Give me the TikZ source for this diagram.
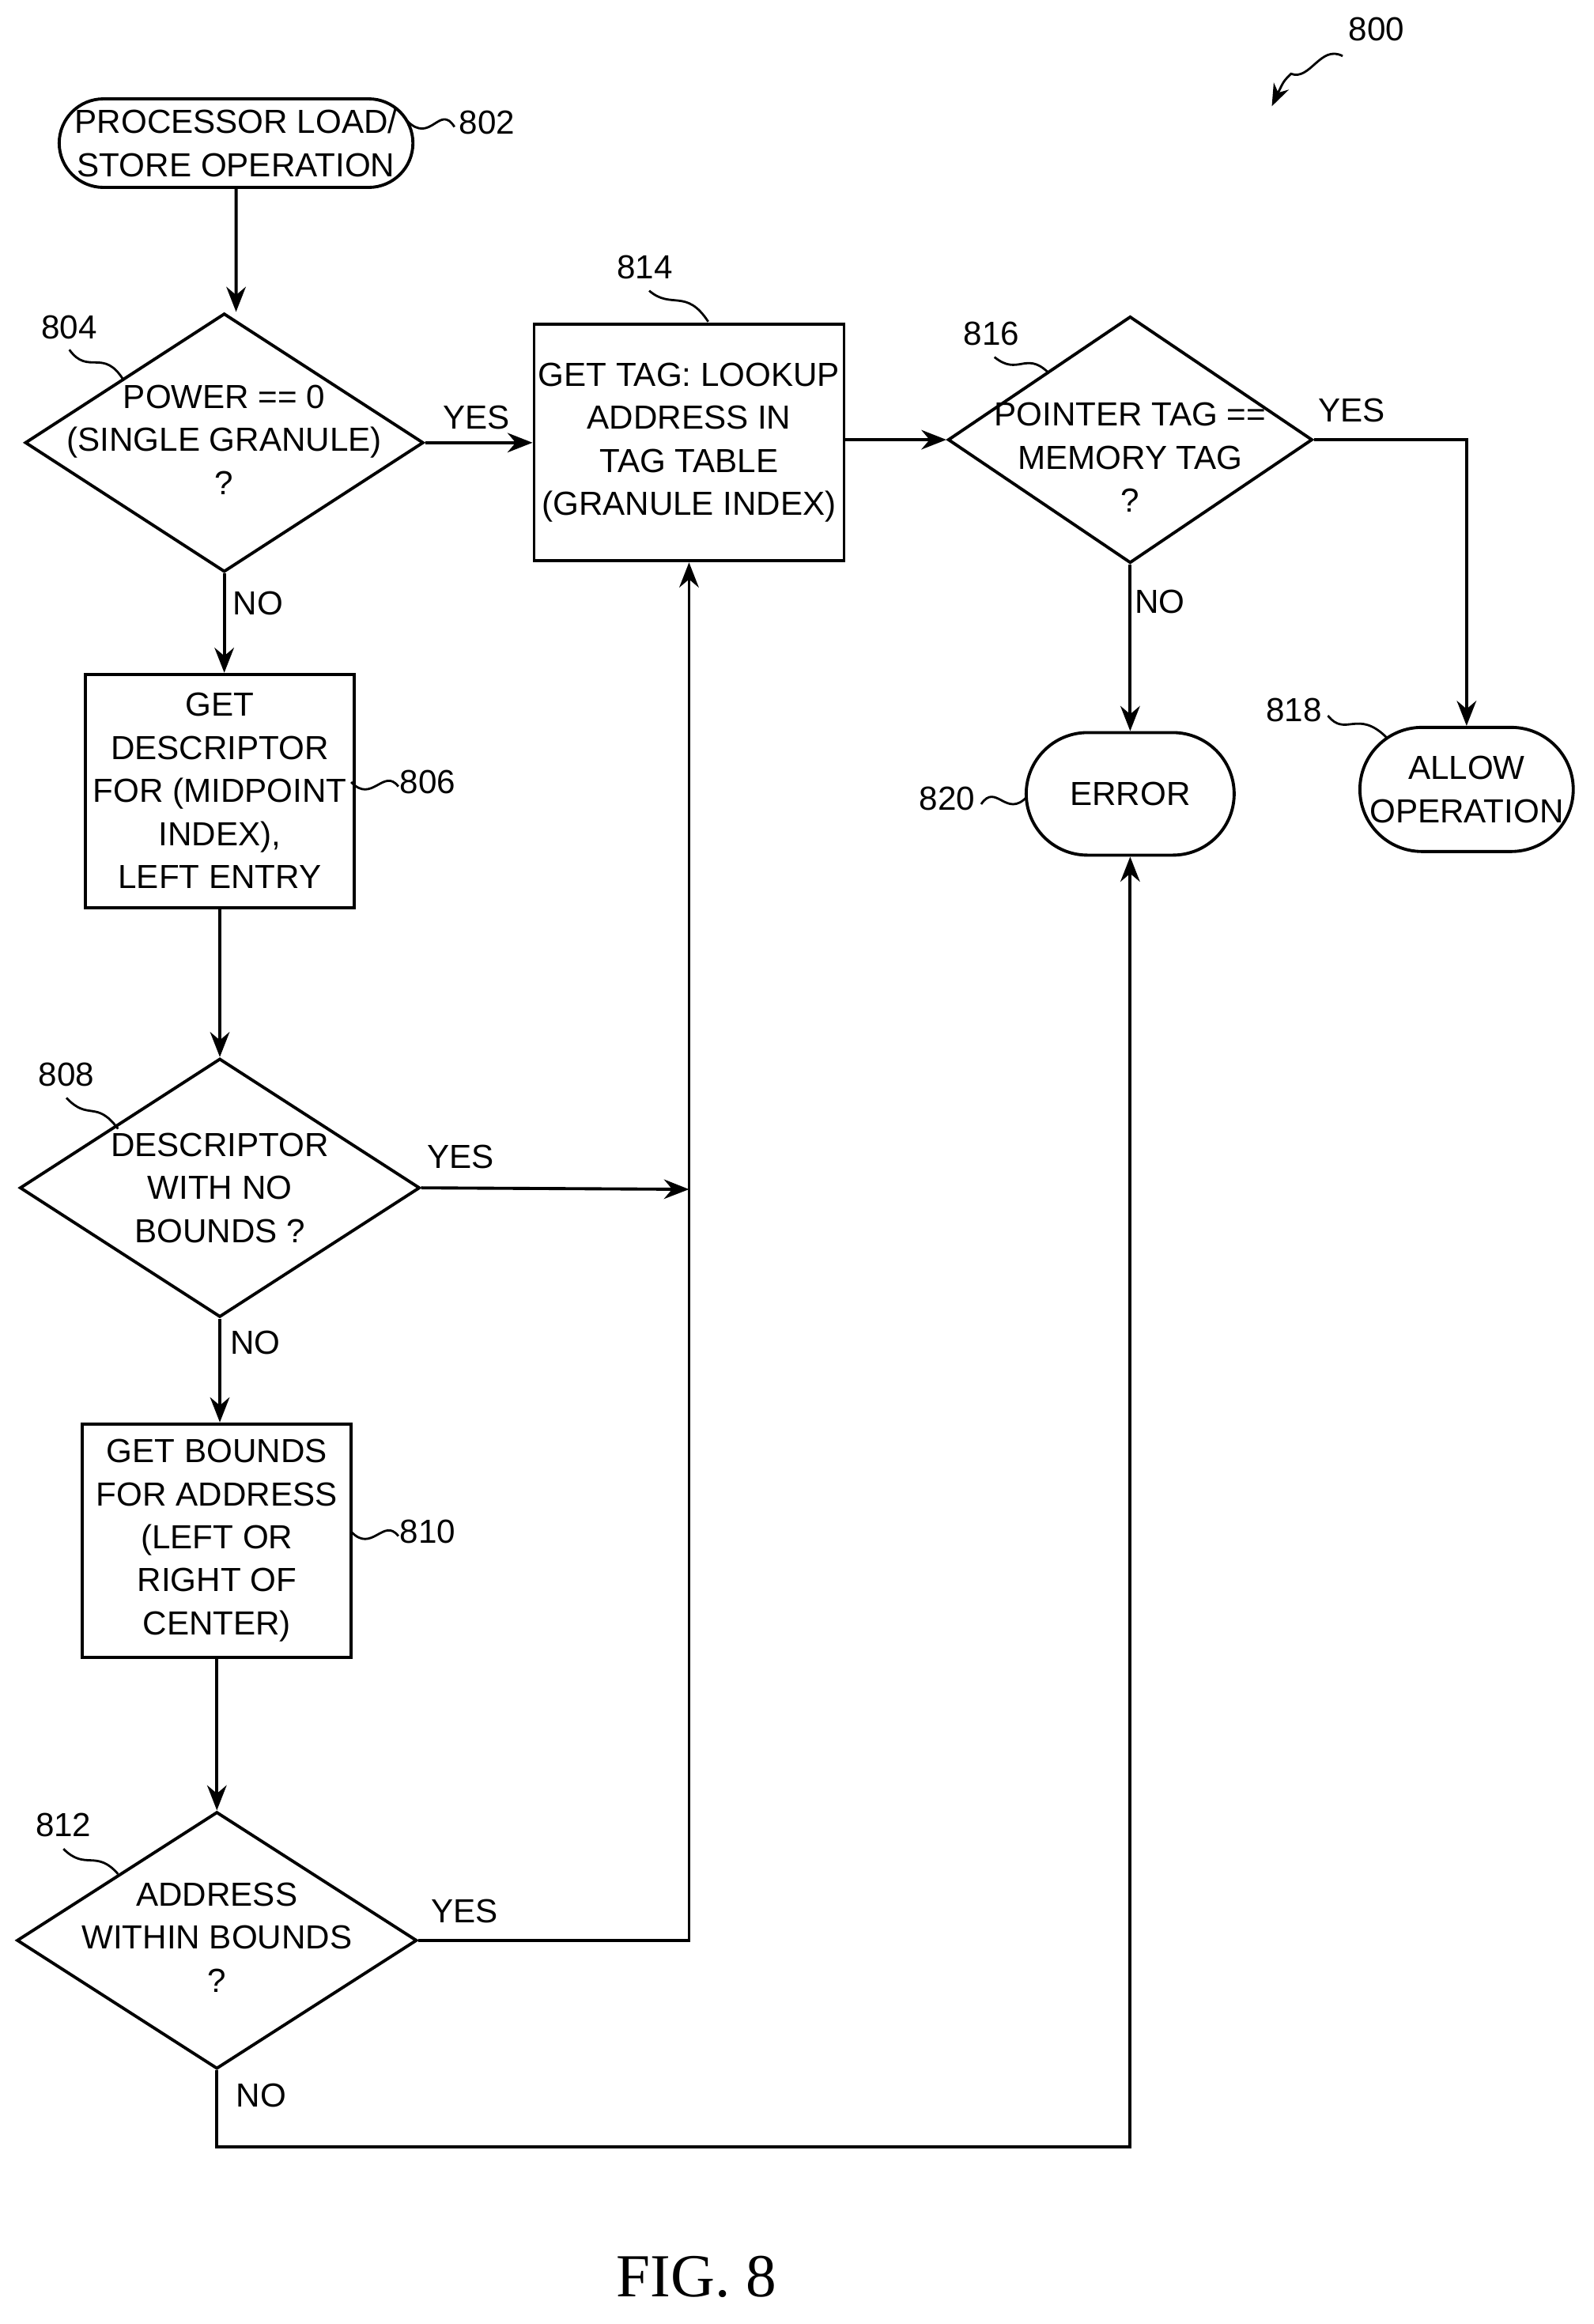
\documentclass[tikz,border=0pt]{standalone}
\usepackage{fontspec}
\setmainfont{Liberation Sans}
\newfontfamily\figfont{Liberation Serif}
\usetikzlibrary{shapes.geometric,shapes.misc,arrows.meta}
\begin{document}
\begin{tikzpicture}[x=0.018657cm,y=-0.018657cm,line width=1.1pt,
  every node/.style={font=\fontsize{12}{15.5}\selectfont,align=center,inner sep=0pt},
  box/.style={draw,rectangle,fill=white},
  term/.style={draw,rounded rectangle,fill=white,rounded rectangle arc length=180},
  dia/.style={draw,diamond,fill=white},
  arr/.style={-{Stealth[length=9pt,width=7pt]}},
  sq/.style={line width=0.8pt}]
\useasboundingbox (0,0) rectangle (1080,1575);
% nodes
\node[term,minimum width=4.29cm,minimum height=1.12cm] (n802) at (160,97) {PROCESSOR LOAD/\\STORE OPERATION};
\node[dia,minimum width=5.04cm,minimum height=3.27cm] (n804) at (152,300) {};
\node at (152,298) {POWER == 0\\(SINGLE GRANULE)\\?};
\node[box,minimum width=3.92cm,minimum height=2.99cm] (n814) at (467,300) {GET TAG: LOOKUP\\ADDRESS IN\\TAG TABLE\\(GRANULE INDEX)};
\node[dia,minimum width=4.61cm,minimum height=3.12cm] (n816) at (766,298) {};
\node at (766,310) {POINTER TAG ==\\MEMORY TAG\\?};
\node[box,minimum width=3.40cm,minimum height=2.95cm] (n806) at (149,536) {GET\\DESCRIPTOR\\FOR (MIDPOINT\\INDEX),\\LEFT ENTRY};
\node[dia,minimum width=5.06cm,minimum height=3.27cm] (n808) at (149,805) {};
\node at (149,805) {DESCRIPTOR\\WITH NO\\BOUNDS ?};
\node[box,minimum width=3.40cm,minimum height=2.95cm] (n810) at (147,1044) {GET BOUNDS\\FOR ADDRESS\\(LEFT OR\\RIGHT OF\\CENTER)};
\node[dia,minimum width=5.06cm,minimum height=3.25cm] (n812) at (147,1315) {};
\node at (147,1313) {ADDRESS\\WITHIN BOUNDS\\?};
\node[term,minimum width=2.63cm,minimum height=1.55cm] (n820) at (766,538) {ERROR};
\node[term,minimum width=2.65cm,minimum height=1.57cm] (n818) at (994,535) {ALLOW\\OPERATION};
% bends
\coordinate (j808) at (467,806);
\coordinate (j812) at (467,1315);
\coordinate (b1) at (147,1455);
\coordinate (b2) at (766,1455);
\coordinate (c816) at (994,298);
% connectors
\draw[arr] (n802) -- (n802|-n804.north);
\draw[arr] (n804.east) -- (n814.west|-n804.east);
\node at (323,283) {YES};
\draw[arr] (n804.south) -- (n806.north-|n804.south);
\node at (175,409) {NO};
\draw[arr] (n806.south) -- (n808.north);
\draw[arr] (n808.east) -- (j808);
\node at (312,784) {YES};
\draw[arr] (n808.south) -- (n810.north-|n808.south);
\node at (173,910) {NO};
\draw[arr] (n810.south) -- (n812.north);
\draw[arr] (n812.east) -- (j812) -- (n814.south);
\node at (315,1295) {YES};
\draw[arr] (n812.south) -- (b1) -- (b2) -- (n820.south);
\node at (177,1420) {NO};
\draw[arr] (n814.east|-n816.west) -- (n816.west);
\draw[arr] (n816.east) -- (c816) -- (n818.north);
\node at (916,278) {YES};
\draw[arr] (n816.south) -- (n820.north);
\node at (786,408) {NO};
% reference labels
\node (l800) at (933,20) {800};
\node (l802) at (330,83) {802};
\node (l804) at (47,222) {804};
\node (l814) at (437,181) {814};
\node (l816) at (672,226) {816};
\node (l806) at (290,530) {806};
\node (l808) at (45,728) {808};
\node (l810) at (290,1038) {810};
\node (l812) at (43,1237) {812};
\node (l820) at (642,541) {820};
\node (l818) at (877,481) {818};
\draw[sq,-{Stealth[length=8pt,width=6pt]}] (910,38) .. controls (895,30) and (888,55) .. (875,50) .. controls (870,55) .. (862,72);
\draw[sq] (308,86) .. controls (298,70) and (292,98) .. (276,82);
\draw[sq] (47,237) .. controls (60,255) and (70,235) .. (84,258);
\draw[sq] (440,197) .. controls (455,210) and (465,195) .. (480,218);
\draw[sq] (674,242) .. controls (690,255) and (695,238) .. (710,252);
\draw[sq] (270,533) .. controls (260,520) and (252,545) .. (238,530);
\draw[sq] (45,744) .. controls (60,760) and (65,745) .. (80,765);
\draw[sq] (270,1041) .. controls (260,1028) and (252,1053) .. (238,1038);
\draw[sq] (43,1253) .. controls (58,1268) and (65,1253) .. (80,1270);
\draw[sq] (665,545) .. controls (675,530) and (682,555) .. (696,540);
\draw[sq] (900,485) .. controls (912,500) and (920,480) .. (940,500);
\node[font=\figfont\fontsize{22}{26}\selectfont] (fig) at (472,1543) {FIG. 8};
\end{tikzpicture}
\end{document}
